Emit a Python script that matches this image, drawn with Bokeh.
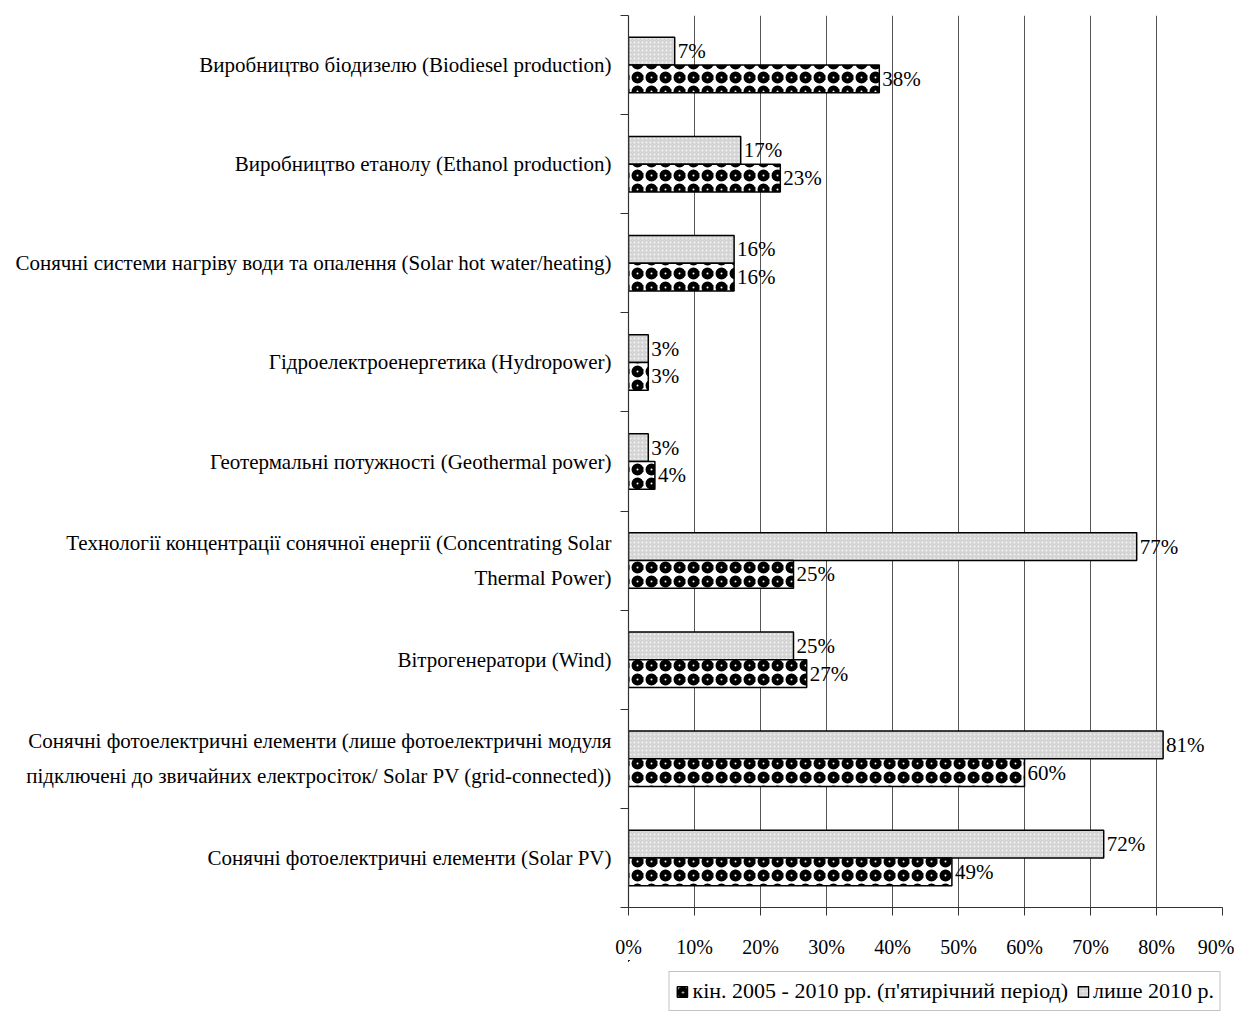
from bokeh.plotting import figure
from bokeh.models import (ColumnDataSource, FixedTicker, Range1d, Legend,
                          LegendItem, LabelSet)
from bokeh.layouts import column
from bokeh.embed import file_html
from bokeh.resources import INLINE

# ---------------- data ----------------
categories = [
    "Виробництво біодизелю (Biodiesel production)",
    "Виробництво етанолу (Ethanol production)",
    "Сонячні системи нагріву води та опалення (Solar hot water/heating)",
    "Гідроелектроенергетика (Hydropower)",
    "Геотермальні потужності (Geothermal power)",
    "Технології концентрації сонячної енергії (Concentrating Solar\nThermal Power)",
    "Вітрогенератори (Wind)",
    "Сонячні фотоелектричні елементи (лише фотоелектричні модуля\nпідключені до звичайних електросіток/ Solar PV (grid-connected))",
    "Сонячні фотоелектричні елементи (Solar PV)",
]
share_2010_only = [7, 17, 16, 3, 3, 77, 25, 81, 72]
share_2005_2010 = [38, 23, 16, 3, 4, 25, 27, 60, 49]
x_ticks = [0, 10, 20, 30, 40, 50, 60, 70, 80, 90]
x_tick_labels = ["0%", "10%", "20%", "30%", "40%", "50%", "60%", "70%", "80%", "90%"]
series_names = ["кін. 2005 - 2010 рр. (п'ятирічний період)", "лише 2010 р."]

FONT = "Liberation Serif"
n = len(categories)
centers = [n - 1 - i + 0.5 for i in range(n)]
bar_h = 0.28

style_b = dict(fill_color="#d4d4d4", hatch_pattern="dot", hatch_color="#f2f2f2",
               hatch_scale=4, hatch_weight=1, line_color="black", line_width=1.5)
style_a = dict(fill_color="white", hatch_pattern="ring", hatch_color="black",
               hatch_scale=14, hatch_weight=5, line_color="black", line_width=1.5)

src_a = ColumnDataSource(dict(
    y=[c - bar_h / 2 for c in centers],
    v=share_2005_2010,
    lbl=[f"{v}%" for v in share_2005_2010],
))
src_b = ColumnDataSource(dict(
    y=[c + bar_h / 2 for c in centers],
    v=share_2010_only,
    lbl=[f"{v}%" for v in share_2010_only],
))

p = figure(width=1234, height=960, x_range=Range1d(0, 90), y_range=Range1d(0, n),
           output_backend="svg", toolbar_location=None,
           min_border_left=628, min_border_right=12, min_border_top=15,
           min_border_bottom=53)
p.outline_line_color = None
p.background_fill_color = "white"
p.border_fill_color = "white"

p.hbar(y="y", left=0, right="v", height=bar_h, source=src_b, **style_b)
p.hbar(y="y", left=0, right="v", height=bar_h, source=src_a, **style_a)

for src in (src_a, src_b):
    p.add_layout(LabelSet(x="v", y="y", text="lbl", source=src, x_offset=3,
                          text_baseline="middle", text_align="left",
                          text_font=FONT, text_font_size="21px",
                          text_color="black"))

# x axis
xa = p.xaxis[0]
xa.ticker = FixedTicker(ticks=x_ticks)
xa.major_label_overrides = {t: l for t, l in zip(x_ticks, x_tick_labels)}
xa.major_tick_out = 8
xa.major_tick_in = 0
xa.minor_tick_out = 0
xa.minor_tick_in = 0
xa.axis_line_color = "#333333"
xa.axis_line_width = 1.2
xa.major_tick_line_color = "#333333"
xa.major_label_standoff = 20
xa.major_label_text_font = FONT
xa.major_label_text_font_size = "20px"
xa.major_label_text_color = "black"

# y axis
ya = p.yaxis[0]
ya.ticker = FixedTicker(ticks=centers, minor_ticks=list(range(n + 1)))
ya.major_label_overrides = {c: cat for c, cat in zip(centers, categories)}
ya.major_tick_out = 0
ya.major_tick_in = 0
ya.minor_tick_out = 8
ya.minor_tick_in = 0
ya.minor_tick_line_color = "#333333"
ya.axis_line_color = "#333333"
ya.axis_line_width = 1.2
ya.major_label_standoff = 9
ya.major_label_text_font = FONT
ya.major_label_text_font_size = "21px"
ya.major_label_text_line_height = 1.45
ya.major_label_text_color = "black"

p.xgrid.ticker = FixedTicker(ticks=x_ticks)
p.xgrid.grid_line_color = "#555555"
p.xgrid.grid_line_width = 1
p.ygrid.grid_line_color = None

# ---------------- legend strip (same data, ranges set out of view) ----------------
lg = figure(width=1234, height=52, x_range=Range1d(200, 290), y_range=Range1d(-20, -19),
            x_axis_location=None, y_axis_location=None,
            output_backend="svg", toolbar_location=None,
            min_border_left=628, min_border_right=12, min_border_top=0,
            min_border_bottom=0)
lg.outline_line_color = None
lg.grid.visible = False
la = lg.hbar(y="y", left=0, right="v", height=bar_h, source=src_a, **style_a)
lb = lg.hbar(y="y", left=0, right="v", height=bar_h, source=src_b, **style_b)

legend = Legend(items=[LegendItem(label=series_names[0], renderers=[la]),
                       LegendItem(label=series_names[1], renderers=[lb])],
                location="bottom_right", orientation="horizontal",
                glyph_width=13, glyph_height=13, label_standoff=4, spacing=8,
                padding=6, margin=1, label_height=20,
                label_text_font=FONT, label_text_font_size="22px",
                label_text_color="black",
                border_line_color="#888888", border_line_width=1,
                background_fill_color="white", background_fill_alpha=1)
lg.add_layout(legend, "center")

open("out.html", "w").write(file_html(column(p, lg), INLINE))
